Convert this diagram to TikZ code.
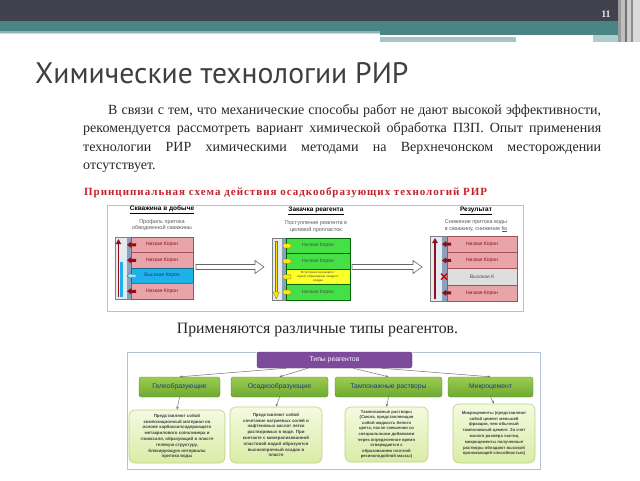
\documentclass[tikz,border=0pt]{standalone}
\usepackage{fontspec}
\setmainfont{Liberation Serif}
\newfontfamily\ptsans{PT Sans}
\newfontfamily\lsans{Liberation Sans}
\newfontfamily\spacedserif[LetterSpace=9]{Liberation Serif}
\usetikzlibrary{calc,arrows.meta}
\definecolor{hdr}{HTML}{41414F}
\definecolor{teal1}{HTML}{4A8585}
\definecolor{teal2}{HTML}{8DB5B5}
\definecolor{teal3}{HTML}{A9C3C6}
\definecolor{ttl}{HTML}{3F3F3F}
\definecolor{redt}{HTML}{C3222B}
\definecolor{frm}{HTML}{B4C2D6}
\definecolor{pinkL}{HTML}{E8A4A9}
\definecolor{pinkB}{HTML}{A4505A}
\definecolor{cyanL}{HTML}{1EB2EA}
\definecolor{greenL}{HTML}{45E045}
\definecolor{yellowL}{HTML}{FFFF2A}
\definecolor{grayL}{HTML}{DEDEDE}
\definecolor{tubeF}{HTML}{E4EAF2}
\definecolor{tubeE}{HTML}{8CA0BA}
\definecolor{dred}{HTML}{8E1016}
\definecolor{purp}{HTML}{7E4B9C}
\definecolor{grT}{HTML}{9CCC52}
\definecolor{grB}{HTML}{6EA830}
\definecolor{grD}{HTML}{5E8E2C}
\definecolor{navy}{HTML}{1E3C78}
\definecolor{descT}{HTML}{F4FAE0}
\definecolor{descBt}{HTML}{D9ECA6}
\definecolor{descB}{HTML}{B9D47E}
\newcommand\larr[3]{\fill[#3] (#1,#2) -- ++(4,-3) -- ++(0,1.5) -- ++(5,0) -- ++(0,3) -- ++(-5,0) -- ++(0,1.5) -- cycle;}
\newcommand\hollowarr[3]{\draw[gray!80!black,fill=white,line width=0.6pt] (#1,#3-2.5) -- (#2-9,#3-2.5) -- (#2-9,#3-6.5) -- (#2,#3) -- (#2-9,#3+6.5) -- (#2-9,#3+2.5) -- (#1,#3+2.5) -- cycle;}
\begin{document}
\begin{tikzpicture}[x=1pt,y=-1pt,
  ptitle/.style={font=\lsans\fontsize{6.5}{7}\selectfont\bfseries, text=black, inner sep=0},
  psub/.style={font=\lsans\fontsize{5.5}{6.5}\selectfont, text=black!65, align=center, inner sep=0},
  layer/.style={draw=pinkB, line width=0.4pt, minimum height=15.5pt, inner sep=0, font=\lsans\fontsize{5}{5}\selectfont},
  pinkly/.style={layer, fill=pinkL, text=dred},
  grbox/.style={draw=grD, rounded corners=2.5pt, top color=grT, bottom color=grB, minimum height=20pt, inner sep=0, font=\lsans\fontsize{6.8}{7}\selectfont, text=navy},
  desc/.style={draw=descB, line width=0.6pt, rounded corners=6pt, top color=descT, bottom color=descBt, inner sep=0, align=center, font=\lsans\fontsize{4.4}{5.8}\selectfont\bfseries, text=black!75},
  conn/.style={draw=black!55, line width=0.5pt, -{Stealth[length=3pt,width=2.5pt]}},
  para/.style={anchor=base west, inner sep=0, font=\fontsize{14}{19}\selectfont, text=black!85}
]
\useasboundingbox (0,0) rectangle (640,480);
\fill[white] (0,0) rectangle (640,480);
% header
\fill[hdr] (0,0) rectangle (640,21);
\fill[teal1] (0,21) rectangle (640,31);
\fill[teal2] (0,31) rectangle (380,32.5);
\fill[teal3!60] (0,32.5) rectangle (380,34);
\fill[teal1] (380,31) rectangle (620,35);
\fill[white] (380,35) rectangle (593,37);
\fill[teal3] (380,37) rectangle (516,42);
\fill[teal2!70] (593,35) rectangle (620,42);
\fill[black!40] (618,0) rectangle (621,42);
\fill[black!25] (621,0) rectangle (625,42);
\fill[black!55] (625,0) rectangle (627,42);
\fill[black!20] (627,0) rectangle (631,42);
\fill[black!45] (631,0) rectangle (633,42);
\fill[black!15] (633,0) rectangle (640,42);
\node[font=\bfseries\fontsize{10}{10}\selectfont, text=white!90!black, inner sep=0] (pg) at (606,14.5) {11};
% title
\node[anchor=base west, inner sep=0, font=\ptsans\fontsize{29.6}{30}\selectfont, text=ttl] (title) at (35,83) {Химические технологии РИР};
% paragraph
\node[para] (l1) at (108,114) {\makebox[493pt][s]{В связи с тем, что механические способы работ не дают высокой эффективности,}};
\node[para] (l2) at (83,132.5) {\makebox[518pt][s]{рекомендуется рассмотреть вариант химической обработка ПЗП. Опыт применения}};
\node[para] (l3) at (83,151) {\makebox[518pt][s]{технологии РИР химическими методами на Верхнечонском месторождении}};
\node[para] (l4) at (83,169.5) {отсутствует.};
% scheme title
\node[anchor=base west, inner sep=0, font=\spacedserif\bfseries\fontsize{11}{11}\selectfont, text=redt] (sch) at (84,195) {Принципиальная схема действия осадкообразующих технологий РИР};
% scheme frame
\draw[frm, line width=0.8pt] (107,205) rectangle (523,311);
% ---- left panel
\node[ptitle] (t1) at (162,210) {\underline{Скважина в добыче}};
\node[psub] (s1) at (162,225) {Профиль притока\\обводненной скважины};
\fill[tubeF] (115,237) rectangle (131,299);
\fill[tubeE] (127,237) rectangle (131,299);
\draw[black!50, line width=0.3pt] (115,237) rectangle (131,299);
\fill[cyanL] (120.3,262) rectangle (123.3,297);
\draw[dred, line width=1.3pt, -{Triangle[length=5pt,width=5pt]}] (118.5,297) -- (118.5,239);
\node[pinkly, minimum width=62pt] (a1) at (162,244.75) {Низкая Кпрон};
\node[pinkly, minimum width=62pt] (a2) at (162,260.25) {Низкая Кпрон};
\node[layer, fill=cyanL, draw=cyanL!60!black, text=navy, minimum width=62pt] (a3) at (162,275.75) {Высокая Кпрон};
\node[pinkly, minimum width=62pt] (a4) at (162,291.25) {Низкая Кпрон};
\larr{127}{244.75}{dred}
\larr{127}{260.25}{dred}
\draw[cyanL!70!black, fill=cyanL!40, line width=0.4pt] (127,275.75) -- ++(4,-3) -- ++(0,1.5) -- ++(5,0) -- ++(0,3) -- ++(-5,0) -- ++(0,1.5) -- cycle;
\larr{127}{291.25}{dred}
\hollowarr{196}{264}{267}
% ---- middle panel
\node[ptitle] (t2) at (316,211) {\underline{Закачка реагента}};
\node[psub] (s2) at (316,226.5) {Поступление реагента в\\целевой пропласток};
\fill[tubeF] (272,238) rectangle (286,300);
\fill[tubeE] (282,238) rectangle (286,300);
\draw[black!50, line width=0.3pt] (272,238) rectangle (286,300);
\draw[black!60!yellow, fill=yellow!85!orange, line width=0.3pt] (274.8,241) rectangle (277.6,292);
\draw[black!60!yellow, fill=yellow!85!orange, line width=0.3pt] (273,292) -- (279.4,292) -- (276.2,299) -- cycle;
\node[layer, fill=greenL, draw=green!40!black, text=black!70, minimum width=64pt] (b1) at (318,245.75) {Низкая Кпрон};
\node[layer, fill=greenL, draw=green!40!black, text=black!70, minimum width=64pt] (b2) at (318,261.25) {Низкая Кпрон};
\node[layer, fill=yellowL, draw=green!40!black, text=black!75, minimum width=64pt, align=center, font=\lsans\fontsize{3}{3.6}\selectfont] (b3) at (318,276.75) {Вступление в реакцию с\\водой, образование твердого\\осадка};
\node[layer, fill=greenL, draw=green!40!black, text=black!70, minimum width=64pt] (b4) at (318,292.25) {Низкая Кпрон};
\foreach \yy in {245.75,261.25,276.75,292.25}
  \draw[black!60!yellow, fill=yellow!90!orange, line width=0.3pt, rounded corners=1pt] (283,\yy-2.2) rectangle (291,\yy+2.2);
\hollowarr{352}{422}{267}
% ---- right panel
\node[ptitle] (t3) at (476,211) {\underline{Результат}};
\node[psub] (s3) at (476,226) {Снижение притока воды\\в скважину, снижение \underline{fw}};
\fill[tubeF] (430,236) rectangle (447,301);
\fill[tubeE] (442,236) rectangle (447,301);
\draw[black!50, line width=0.3pt] (430,236) rectangle (447,301);
\draw[dred, line width=1.6pt, -{Triangle[length=5pt,width=5.5pt]}] (435,299) -- (435,238);
\node[pinkly, minimum width=70pt, minimum height=16.25pt] (c1) at (482,244.125) {Низкая Кпрон};
\node[pinkly, minimum width=70pt, minimum height=16.25pt] (c2) at (482,260.375) {Низкая Кпрон};
\node[layer, fill=grayL, draw=pinkB, text=black!70, minimum width=70pt, minimum height=16.25pt] (c3) at (482,276.625) {Высокая К};
\node[pinkly, minimum width=70pt, minimum height=16.25pt] (c4) at (482,292.875) {Низкая Кпрон};
\larr{442}{244.125}{dred}
\larr{442}{260.375}{dred}
\larr{442}{292.875}{dred}
\draw[red!85!black, line width=1.3pt] (441,273.6) -- (447,279.6) (441,279.6) -- (447,273.6);
% sentence
\node[anchor=base, inner sep=0, font=\fontsize{15.8}{17}\selectfont, text=black!85] (appl) at (317.5,333) {Применяются различные типы реагентов.};
% ---- bottom diagram
\draw[frm, line width=0.8pt] (127,352) rectangle (540,469);
\node[draw=purp!70!black, fill=purp, rounded corners=2.5pt, minimum width=155pt, minimum height=16pt, inner sep=0, text=white, font=\lsans\fontsize{6.8}{7}\selectfont] (p) at (334.5,360) {Типы реагентов};
\node[grbox, minimum width=81pt] (g1) at (179.5,387) {Гелеобразующие};
\node[grbox, minimum width=97pt] (g2) at (279.5,387) {Осадкообразующие};
\node[grbox, minimum width=107pt] (g3) at (388.5,387) {Тампонажные растворы};
\node[grbox, minimum width=85pt] (g4) at (490.5,387) {Микроцемент};
\draw[conn] ($(p.south west)!0.19!(p.south east)$) -- (g1.north);
\draw[conn] ($(p.south west)!0.33!(p.south east)$) -- (g2.north);
\draw[conn] ($(p.south west)!0.62!(p.south east)$) -- (g3.north);
\draw[conn] ($(p.south west)!0.80!(p.south east)$) -- (g4.north);
\node[desc, minimum width=96pt, minimum height=53pt] (d1) at (177,436.5) {Представляют собой\\композиционный материал на\\основе карбоксилсодержащего\\метакрилового сополимера и\\глиоксаля, образующий в пласте\\гелевую структуру,\\блокирующую интервалы\\притока воды};
\node[desc, minimum width=92pt, minimum height=56pt] (d2) at (276,435) {Представляют собой\\сочетание натриевых солей и\\нафтеновых кислот легко\\растворимых в воде. При\\контакте с минерализованной\\пластовой водой образуются\\высокопрочный осадок в\\пласте};
\node[desc, minimum width=83pt, minimum height=55pt, font=\lsans\fontsize{4.2}{5.6}\selectfont\bfseries] (d3) at (386.5,434.5) {Тампонажные растворы\\(Смола, представляющая\\собой жидкость белого\\цвета, после смешения со\\специальными добавками\\через определенное время\\отверждается с\\образованием плотной\\резиноподобной массы)};
\node[desc, minimum width=82pt, minimum height=59pt, font=\lsans\fontsize{4.2}{5.8}\selectfont\bfseries] (d4) at (494,433.5) {Микроцементы (представляют\\собой цемент меньшей\\фракции, чем обычный\\тампонажный цемент. За счет\\малого размера частиц\\микроцементы полученные\\растворы обладают высокой\\проникающей способностью)};
\draw[conn] (g1.south) -- (d1.north);
\draw[conn] (g2.south) -- (d2.north);
\draw[conn] (g3.south) -- (d3.north);
\draw[conn] (g4.south) -- (d4.north);
\end{tikzpicture}
\end{document}
